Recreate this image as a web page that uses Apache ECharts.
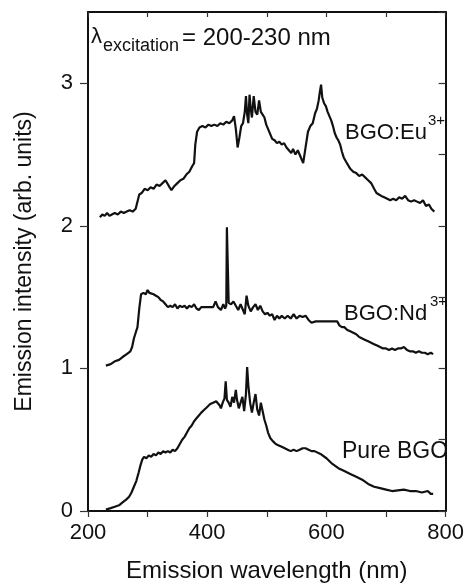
<!DOCTYPE html>
<html><head><meta charset="utf-8">
<script src="https://cdn.jsdelivr.net/npm/echarts@6/dist/echarts.min.js"></script>
<style>html,body{margin:0;padding:0;background:#fff}#c{width:467px;height:588px}</style>
</head><body><div id="c"></div>
<script>
// ---- data ----
const euX = [220,224,228,232,236,240,245,250,255,260,265,270,275,280,283,286,290,295,300,305,310,315,320,325,330,333,337,340,345,350,355,360,365,370,375,378,380,383,387,392,397,402,407,412,417,422,427,432,437,442,445,448,451,454,457,460,463,465,467,469,471,473,475,478,481,484,487,490,493,496,499,502,505,509,513,517,521,525,529,533,537,541,544,548,552,556,561,565,569,573,577,581,584,587,589,591,593,596,599,602,605,608,611,614,617,620,623,626,629,633,636,640,645,650,655,660,665,670,675,680,684,688,692,697,702,707,712,717,722,727,732,737,742,747,752,757,762,767,772,776,781];
const euY = [2.06,2.08,2.07,2.09,2.07,2.08,2.09,2.08,2.10,2.09,2.10,2.11,2.10,2.12,2.13,2.22,2.23,2.26,2.25,2.27,2.26,2.29,2.28,2.30,2.32,2.33,2.27,2.25,2.28,2.30,2.32,2.33,2.36,2.38,2.42,2.44,2.57,2.66,2.69,2.70,2.69,2.71,2.70,2.71,2.70,2.72,2.71,2.73,2.72,2.74,2.77,2.68,2.55,2.62,2.70,2.72,2.80,2.91,2.78,2.72,2.92,2.82,2.76,2.91,2.80,2.78,2.88,2.80,2.78,2.76,2.71,2.68,2.65,2.61,2.60,2.58,2.59,2.57,2.58,2.55,2.53,2.51,2.54,2.50,2.53,2.49,2.44,2.55,2.66,2.70,2.72,2.79,2.82,2.88,2.94,2.99,2.90,2.86,2.84,2.80,2.79,2.74,2.70,2.65,2.62,2.60,2.57,2.52,2.48,2.45,2.44,2.40,2.38,2.37,2.35,2.36,2.34,2.32,2.30,2.26,2.23,2.22,2.21,2.20,2.19,2.18,2.19,2.18,2.20,2.19,2.21,2.18,2.17,2.18,2.17,2.16,2.18,2.14,2.15,2.12,2.10];

const ndX = [230,238,245,252,258,265,271,274,277,280,283,286,289,293,297,300,303,306,310,314,318,322,326,330,334,338,342,346,350,354,358,362,366,370,374,378,382,386,390,400,410,414,418,423,427,430,432,433,435,436,440,444,448,452,456,460,463,466,469,473,477,481,485,489,493,497,501,505,509,513,517,521,525,530,535,540,545,550,555,560,565,570,575,578,582,590,600,610,618,622,626,630,635,640,645,650,655,660,665,670,675,680,685,690,695,700,705,710,715,720,725,730,735,740,745,750,755,760,765,770,775,779];
const ndY = [1.02,1.03,1.05,1.06,1.08,1.10,1.12,1.15,1.21,1.25,1.29,1.42,1.52,1.53,1.52,1.55,1.53,1.54,1.52,1.51,1.50,1.48,1.47,1.45,1.43,1.44,1.43,1.45,1.42,1.44,1.43,1.44,1.42,1.44,1.43,1.45,1.42,1.41,1.43,1.43,1.43,1.47,1.43,1.41,1.45,1.42,1.44,1.99,1.99,1.46,1.45,1.47,1.44,1.41,1.45,1.41,1.38,1.51,1.44,1.40,1.43,1.45,1.41,1.44,1.40,1.38,1.39,1.37,1.38,1.34,1.37,1.35,1.37,1.35,1.37,1.35,1.38,1.35,1.37,1.36,1.37,1.34,1.32,1.31,1.33,1.33,1.33,1.33,1.33,1.30,1.29,1.29,1.27,1.26,1.25,1.24,1.22,1.21,1.20,1.19,1.18,1.17,1.16,1.15,1.14,1.14,1.13,1.14,1.13,1.14,1.14,1.15,1.13,1.12,1.12,1.11,1.12,1.11,1.11,1.10,1.11,1.10];

const pureX = [230,238,245,252,258,264,269,273,277,281,285,288,291,294,298,302,306,310,314,318,322,326,330,334,338,342,346,350,354,358,362,366,370,374,378,382,386,390,395,400,405,410,415,418,421,423,426,429,431,433,436,439,442,445,448,450,453,456,459,462,465,467,469,472,475,478,481,484,487,490,493,496,499,502,506,510,515,520,525,530,535,540,545,550,555,560,565,570,575,580,590,600,610,620,630,640,650,660,670,680,690,700,710,720,730,740,750,760,770,775,779];
const pureY = [0.01,0.02,0.03,0.04,0.06,0.08,0.10,0.13,0.17,0.21,0.27,0.32,0.36,0.38,0.37,0.39,0.38,0.40,0.39,0.41,0.40,0.42,0.41,0.42,0.41,0.43,0.42,0.44,0.47,0.50,0.52,0.55,0.58,0.60,0.63,0.65,0.67,0.69,0.71,0.73,0.75,0.76,0.77,0.76,0.74,0.72,0.76,0.79,0.91,0.78,0.76,0.73,0.80,0.76,0.85,0.78,0.72,0.71,0.80,0.70,0.82,1.01,0.88,0.76,0.69,0.76,0.82,0.71,0.67,0.76,0.70,0.64,0.60,0.55,0.51,0.49,0.47,0.46,0.45,0.44,0.43,0.42,0.43,0.42,0.43,0.44,0.44,0.43,0.42,0.42,0.40,0.37,0.33,0.30,0.28,0.26,0.24,0.22,0.19,0.17,0.16,0.15,0.14,0.145,0.15,0.14,0.14,0.13,0.14,0.12,0.12];

const xTickLabels = [200,400,600,800];
const yTickLabels = [0,1,2,3];
const seriesNames = ['BGO:Eu3+','BGO:Nd3+','Pure BGO'];

// ---- chart ----
const FONT = '"Liberation Sans", Arial, sans-serif';
const zip = (xs, ys) => xs.map((x, i) => [x, ys[i]]);
const chart = echarts.init(document.getElementById('c'), null, {renderer: 'canvas'});
const axisLine = {show: true, onZero: false, lineStyle: {color: '#111', width: 2}};
const tickStyle = {color: '#333', width: 1.2};

chart.setOption({
  animation: false,
  backgroundColor: '#fff',
  grid: {left: 88, right: 16, top: 12, bottom: 73, containLabel: false},
  xAxis: [
    {type: 'value', position: 'bottom', min: 200, max: 800, interval: 100,
     axisLine: axisLine,
     axisTick: {show: true, inside: false, length: 6, lineStyle: tickStyle},
     axisLabel: {customValues: xTickLabels, margin: 11, fontSize: 22, color: '#111', fontFamily: FONT},
     splitLine: {show: false},
     name: 'Emission wavelength (nm)', nameLocation: 'middle', nameGap: 48,
     nameTextStyle: {fontSize: 24, color: '#111', fontFamily: FONT}},
    {type: 'value', position: 'top', min: 200, max: 800, interval: 100,
     axisLine: axisLine,
     axisTick: {show: true, inside: true, length: 5, lineStyle: tickStyle},
     axisLabel: {show: false}, splitLine: {show: false}}
  ],
  yAxis: [
    {type: 'value', position: 'left', min: 0, max: 3.5, interval: 0.5,
     axisLine: axisLine,
     axisTick: {show: true, inside: false, length: 8, customValues: yTickLabels, lineStyle: tickStyle},
     axisLabel: {customValues: yTickLabels, margin: 15, fontSize: 22, color: '#111', fontFamily: FONT},
     splitLine: {show: false},
     name: 'Emission intensity (arb. units)', nameLocation: 'middle', nameGap: 52,
     nameTextStyle: {fontSize: 23, color: '#111', fontFamily: FONT}},
    {type: 'value', position: 'right', min: 0, max: 3.5, interval: 0.5,
     axisLine: axisLine,
     axisTick: {show: true, inside: true, length: 7, lineStyle: tickStyle},
     axisLabel: {show: false}, splitLine: {show: false}}
  ],
  series: [
    {name: seriesNames[0], type: 'line', data: zip(euX, euY), showSymbol: false, symbol: 'none',
     lineStyle: {color: '#111', width: 2.2}, xAxisIndex: 0, yAxisIndex: 0},
    {name: seriesNames[1], type: 'line', data: zip(ndX, ndY), showSymbol: false, symbol: 'none',
     lineStyle: {color: '#111', width: 2.2}, xAxisIndex: 0, yAxisIndex: 0},
    {name: seriesNames[2], type: 'line', data: zip(pureX, pureY), showSymbol: false, symbol: 'none',
     lineStyle: {color: '#111', width: 2.2}, xAxisIndex: 0, yAxisIndex: 0}
  ],
  graphic: [
    {type: 'text', left: 91, top: 26, style: {text: 'λ', fontSize: 22, fill: '#111', fontFamily: FONT}},
    {type: 'text', left: 103, top: 37, style: {text: 'excitation', fontSize: 18, fill: '#111', fontFamily: FONT}},
    {type: 'text', left: 182, top: 26, style: {text: '= 200-230 nm', fontSize: 24, fill: '#111', fontFamily: FONT}},
    {type: 'text', left: 345, top: 122, style: {text: 'BGO:Eu', fontSize: 22, fill: '#111', fontFamily: FONT}},
    {type: 'text', left: 428, top: 113, style: {text: '3+', fontSize: 15, fill: '#111', fontFamily: FONT}},
    {type: 'text', left: 344, top: 303, style: {text: 'BGO:Nd', fontSize: 22, fill: '#111', fontFamily: FONT}},
    {type: 'text', left: 430, top: 294, style: {text: '3+', fontSize: 15, fill: '#111', fontFamily: FONT}},
    {type: 'text', left: 342, top: 440, style: {text: 'Pure BGO', fontSize: 23, fill: '#111', fontFamily: FONT}}
  ]
});
</script>
</body></html>
